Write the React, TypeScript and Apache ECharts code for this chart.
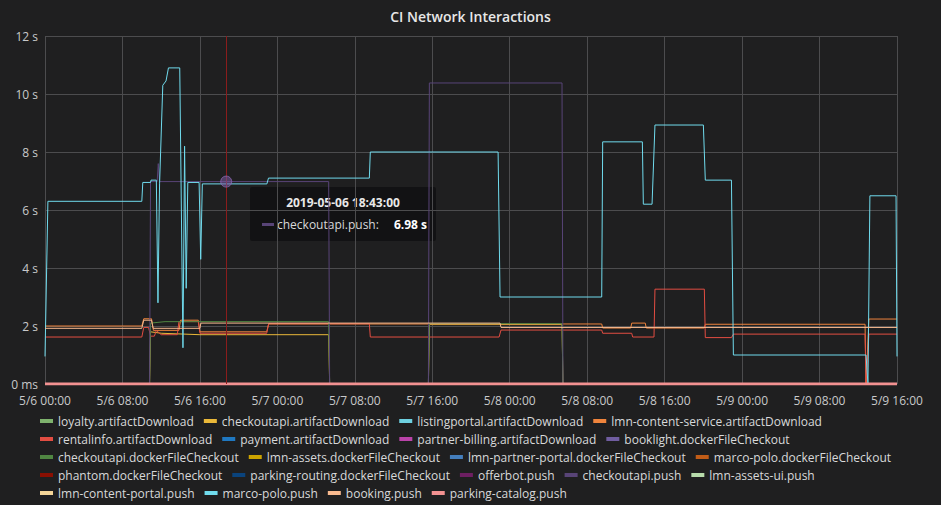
import React, { useEffect, useRef } from "react";
import * as echarts from "echarts";

// ---- data ----
const xTickStart = "05-06 00:00";
const xTickEnd = "05-09 16:00";
const xTickHours = 8;
const yTicks = [0, 2, 4, 6, 8, 10, 12];

const seriesNames = [
  "loyalty.artifactDownload",
  "checkoutapi.artifactDownload",
  "listingportal.artifactDownload",
  "lmn-content-service.artifactDownload",
  "rentalinfo.artifactDownload",
  "payment.artifactDownload",
  "partner-billing.artifactDownload",
  "booklight.dockerFileCheckout",
  "checkoutapi.dockerFileCheckout",
  "lmn-assets.dockerFileCheckout",
  "lmn-partner-portal.dockerFileCheckout",
  "marco-polo.dockerFileCheckout",
  "phantom.dockerFileCheckout",
  "parking-routing.dockerFileCheckout",
  "offerbot.push",
  "checkoutapi.push",
  "lmn-assets-ui.push",
  "lmn-content-portal.push",
  "marco-polo.push",
  "booking.push",
  "parking-catalog.push",
];

const seriesColors = [
  "#7EB26D", "#EAB839", "#6ED0E0", "#EF843C", "#E24D42", "#1F78C1", "#BA43A9",
  "#705DA0", "#508642", "#CCA300", "#447EBC", "#C15C17", "#890F02", "#0A437C",
  "#6D1F62", "#584477", "#B7DBAB", "#F4D598", "#70DBED", "#F9BA8F", "#F29191",
];

type Pt = [string, number];

const zeroLine: Pt[] = [["05-06 00:00", 0], ["05-09 16:00", 0]];

const marcoPoloPush: Pt[] = [
  ["05-06 00:00", 0.95], ["05-06 00:18", 6.3], ["05-06 10:00", 6.3], ["05-06 10:06", 6.95],
  ["05-06 10:54", 6.95], ["05-06 10:57", 7.03], ["05-06 11:30", 7.03], ["05-06 11:40", 2.8],
  ["05-06 11:50", 6.9], ["05-06 12:10", 10.3], ["05-06 12:30", 10.45], ["05-06 12:45", 10.9],
  ["05-06 13:55", 10.9], ["05-06 14:15", 1.25], ["05-06 14:25", 8.2], ["05-06 14:35", 3.3],
  ["05-06 14:45", 6.95], ["05-06 15:55", 6.95], ["05-06 16:05", 4.3], ["05-06 16:15", 6.9],
  ["05-06 22:55", 6.9], ["05-06 23:05", 7.1], ["05-07 09:30", 7.1], ["05-07 09:36", 8.0],
  ["05-07 22:48", 8.0], ["05-07 23:00", 3.0], ["05-08 09:30", 3.0], ["05-08 09:36", 8.35],
  ["05-08 13:42", 8.35], ["05-08 13:48", 6.2], ["05-08 14:42", 6.2], ["05-08 15:00", 8.93],
  ["05-08 20:00", 8.93], ["05-08 20:12", 7.03], ["05-08 22:54", 7.03], ["05-08 23:06", 1.0],
  ["05-09 12:48", 1.0], ["05-09 13:00", 0], ["05-09 13:12", 6.49], ["05-09 15:54", 6.49],
  ["05-09 16:00", 0.95],
];

const checkoutPush: Pt[] = [
  ["05-06 00:00", 0], ["05-06 10:48", 0], ["05-06 10:54", 6.98], ["05-06 11:35", 6.98],
  ["05-06 11:42", 7.6], ["05-06 11:50", 6.98], ["05-07 05:18", 6.98], ["05-07 05:24", 0],
  ["05-07 15:36", 0], ["05-07 15:42", 10.38], ["05-08 05:24", 10.38], ["05-08 05:30", 0],
  ["05-09 16:00", 0],
];

const checkoutArtifact: Pt[] = [
  ["05-06 00:00", 0], ["05-06 10:48", 0], ["05-06 10:54", 1.8], ["05-06 12:00", 1.75],
  ["05-06 16:00", 1.7], ["05-07 05:18", 1.7], ["05-07 05:24", 0], ["05-07 15:36", 0],
  ["05-07 15:42", 2.05], ["05-08 05:24", 2.05], ["05-08 05:30", 0], ["05-09 16:00", 0],
];

const checkoutDocker: Pt[] = [
  ["05-06 00:00", 0], ["05-06 10:48", 0], ["05-06 10:54", 2.1], ["05-06 12:24", 2.15],
  ["05-07 05:18", 2.15], ["05-07 05:24", 0], ["05-07 15:36", 0], ["05-07 15:42", 2.08],
  ["05-08 05:24", 2.08], ["05-08 05:30", 0], ["05-09 16:00", 0],
];

const rentalArtifact: Pt[] = [
  ["05-06 00:00", 1.62], ["05-06 10:00", 1.62], ["05-06 10:12", 1.95], ["05-06 10:42", 1.95],
  ["05-06 10:54", 1.65], ["05-06 11:18", 1.65], ["05-06 11:30", 1.85], ["05-06 12:00", 1.7],
  ["05-06 13:40", 1.7], ["05-06 13:50", 2.15], ["05-06 15:50", 2.15], ["05-06 16:00", 1.75],
  ["05-06 22:54", 1.75], ["05-06 23:06", 2.08], ["05-07 09:30", 2.08], ["05-07 09:36", 1.62],
  ["05-07 22:54", 1.62], ["05-07 23:06", 1.86], ["05-08 09:30", 1.86], ["05-08 09:36", 1.75],
  ["05-08 12:36", 1.75], ["05-08 12:42", 1.62], ["05-08 14:54", 1.62], ["05-08 15:00", 3.27],
  ["05-08 20:06", 3.27], ["05-08 20:12", 1.6], ["05-08 22:54", 1.6], ["05-08 23:06", 1.72],
  ["05-09 12:42", 1.72], ["05-09 12:48", 0], ["05-09 13:06", 1.72], ["05-09 16:00", 1.72],
];

const contentArtifact: Pt[] = [
  ["05-06 00:00", 2.0], ["05-06 10:00", 2.0], ["05-06 10:12", 2.25], ["05-06 11:00", 2.25],
  ["05-06 11:12", 1.85], ["05-06 13:50", 1.85], ["05-06 14:00", 2.2], ["05-06 15:50", 2.2],
  ["05-06 16:00", 1.8], ["05-06 22:54", 1.8], ["05-06 23:06", 2.07], ["05-08 09:30", 2.07],
  ["05-08 09:36", 1.93], ["05-08 12:30", 1.93], ["05-08 12:36", 2.1], ["05-08 14:00", 2.1],
  ["05-08 14:06", 1.93], ["05-08 20:06", 1.93], ["05-08 20:12", 2.06], ["05-09 12:42", 2.06],
  ["05-09 12:48", 0], ["05-09 13:06", 2.24], ["05-09 16:00", 2.24],
];

const bookingPush: Pt[] = [
  ["05-06 00:00", 1.92], ["05-06 10:00", 1.92], ["05-06 10:12", 2.2], ["05-06 11:00", 2.2],
  ["05-06 11:10", 1.92], ["05-06 16:00", 1.92], ["05-06 16:06", 2.1], ["05-07 23:00", 2.1],
  ["05-07 23:06", 1.95], ["05-09 16:00", 1.95],
];

const seriesData: Record<string, Pt[]> = {
  "checkoutapi.artifactDownload": checkoutArtifact,
  "lmn-content-service.artifactDownload": contentArtifact,
  "rentalinfo.artifactDownload": rentalArtifact,
  "checkoutapi.dockerFileCheckout": checkoutDocker,
  "checkoutapi.push": checkoutPush,
  "marco-polo.push": marcoPoloPush,
  "booking.push": bookingPush,
};

const hoverTime = "05-06 18:43";
const hoverSeries = "checkoutapi.push";
const hoverValue = 6.98;

// ---- helpers ----
function ts(s: string): number {
  const m = s.match(/(\d+)-(\d+) (\d+):(\d+)/)!;
  return Date.UTC(2019, Number(m[1]) - 1, Number(m[2]), Number(m[3]), Number(m[4]));
}
const pad = (n: number) => (n < 10 ? "0" + n : "" + n);
function fmtX(v: number): string {
  const d = new Date(v);
  return `${d.getUTCMonth() + 1}/${d.getUTCDate()} ${pad(d.getUTCHours())}:${pad(d.getUTCMinutes())}`;
}
function fmtFull(v: number): string {
  const d = new Date(v);
  return `${d.getUTCFullYear()}-${pad(d.getUTCMonth() + 1)}-${pad(d.getUTCDate())} ${pad(
    d.getUTCHours()
  )}:${pad(d.getUTCMinutes())}:${pad(d.getUTCSeconds())}`;
}

const FONT = "'Open Sans', 'Noto Sans', sans-serif";

export default function App() {
  const ref = useRef<HTMLDivElement>(null);
  useEffect(() => {
    document.body.style.margin = "0";
    if (!ref.current) return;
    const chart = echarts.init(ref.current, null, { renderer: "svg" });
    const series: any[] = seriesNames.map((name, i) => {
      const pts = seriesData[name] || zeroLine;
      const s: any = {
        name,
        type: "line",
        showSymbol: false,
        symbol: "none",
        color: seriesColors[i],
        lineStyle: { width: name === "parking-catalog.push" ? 3 : 1, color: seriesColors[i] },
        emphasis: { disabled: true },
        data: pts.map(([t, v]) => [ts(t), v]),
      };
      if (name === hoverSeries) {
        s.markLine = {
          silent: true,
          symbol: "none",
          label: { show: false },
          lineStyle: { color: "#8a1c1c", width: 1, type: "solid" },
          data: [{ xAxis: ts(hoverTime) }],
        };
        s.markPoint = {
          silent: true,
          symbol: "circle",
          symbolSize: 11,
          label: { show: false },
          itemStyle: { color: "rgba(120,90,160,0.55)", borderColor: "rgba(150,110,190,0.7)", borderWidth: 1 },
          data: [{ coord: [ts(hoverTime), hoverValue] }],
        };
      }
      return s;
    });

    const option: any = {
      animation: false,
      backgroundColor: "#1f1f20",
      title: {
        text: "CI Network Interactions",
        left: "center",
        top: 4,
        textStyle: { color: "#e8e8e8", fontSize: 14, fontWeight: 600, fontFamily: FONT },
      },
      grid: { left: 45, right: 44, top: 36, bottom: 121, containLabel: false },
      xAxis: {
        type: "value",
        min: ts(xTickStart),
        max: ts(xTickEnd),
        interval: xTickHours * 3600 * 1000,
        axisLine: { show: false },
        axisTick: { show: false },
        splitLine: { show: true, lineStyle: { color: "#4c4c4e", width: 1 } },
        axisLabel: {
          color: "#c8c9ca",
          fontSize: 12,
          lineHeight: 12,
          fontFamily: FONT,
          margin: 10,
          formatter: (v: number) => fmtX(v),
        },
      },
      yAxis: {
        type: "value",
        min: yTicks[0],
        max: yTicks[yTicks.length - 1],
        interval: yTicks[1] - yTicks[0],
        axisLine: { show: false },
        axisTick: { show: false },
        splitLine: { show: true, lineStyle: { color: "#4c4c4e", width: 1 } },
        axisLabel: {
          color: "#c8c9ca",
          fontSize: 12,
          lineHeight: 12,
          fontFamily: FONT,
          margin: 7,
          formatter: (v: number) => (v === 0 ? "0 ms" : v + " s"),
        },
      },
      legend: {
        left: 35,
        right: 30,
        top: 410,
        icon: "rect",
        itemWidth: 13,
        itemHeight: 4,
        itemGap: 6,
        selectedMode: false,
        textStyle: {
          color: "#d8d9da",
          fontSize: 12,
          fontFamily: FONT,
          lineHeight: 12,
          padding: [0, 4, 0, 0],
        },
        data: seriesNames,
      },
      graphic: [
        {
          type: "group",
          left: 250,
          top: 187,
          children: [
            {
              type: "rect",
              shape: { x: 0, y: 0, width: 186, height: 54, r: 2 },
              style: { fill: "rgba(18,18,19,0.94)" },
            },
            {
              type: "text",
              x: 93,
              y: 15,
              style: {
                text: fmtFull(ts(hoverTime)),
                fill: "#e8e8e8",
                font: `bold 12px ${FONT}`,
                align: "center",
                verticalAlign: "middle",
              },
            },
            {
              type: "rect",
              shape: { x: 12, y: 36, width: 12, height: 3 },
              style: { fill: seriesColors[seriesNames.indexOf(hoverSeries)] },
            },
            {
              type: "text",
              x: 27,
              y: 37,
              style: {
                text: hoverSeries + ":",
                fill: "#d8d9da",
                font: `12px ${FONT}`,
                align: "left",
                verticalAlign: "middle",
              },
            },
            {
              type: "text",
              x: 177,
              y: 37,
              style: {
                text: hoverValue.toFixed(2) + " s",
                fill: "#ffffff",
                font: `bold 12px ${FONT}`,
                align: "right",
                verticalAlign: "middle",
              },
            },
          ],
        },
      ],
      series,
    };
    chart.setOption(option);
    return () => chart.dispose();
  }, []);
  return <div ref={ref} style={{ width: 941, height: 505, background: "#1f1f20" }} />;
}
